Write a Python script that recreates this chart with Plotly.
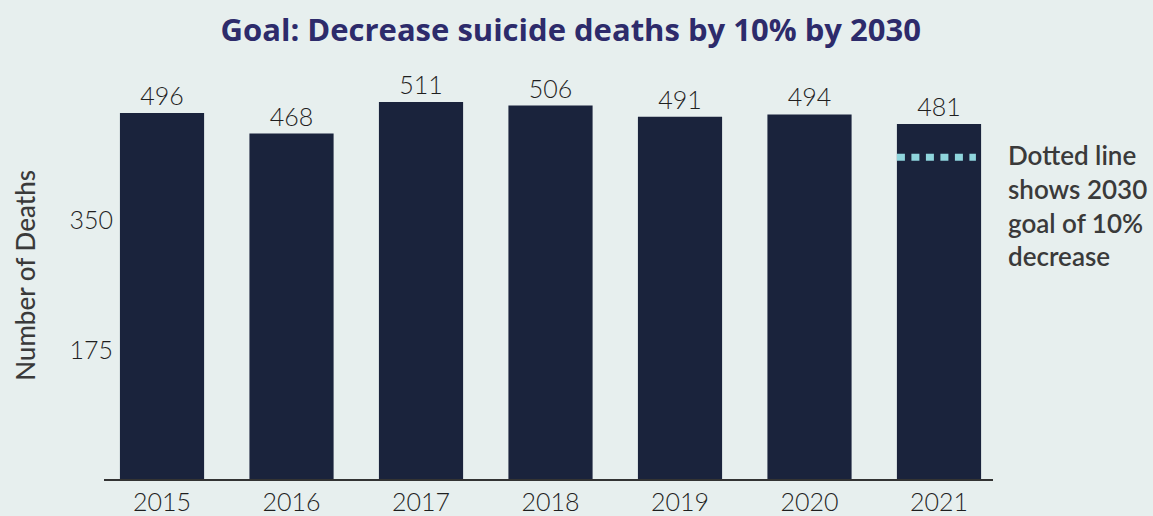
import plotly.graph_objects as go

# Suicide deaths per year
years = [2015, 2016, 2017, 2018, 2019, 2020, 2021]
deaths = [496, 468, 511, 506, 491, 494, 481]
goal_2030 = 436
y_ticks = [175, 350]

BG = "#e7efee"
BAR = "#1a233c"
TITLE = "#2d2b6b"
TEXT = "#1f1f1f"
NOTE = "#3a3a3a"
GOAL = "#8fd5dd"

bar_frac = 0.65

fig = go.Figure()
fig.add_trace(go.Bar(
    x=years, y=deaths,
    marker=dict(color=BAR, line=dict(width=0)),
    width=bar_frac,
    text=[str(v) for v in deaths],
    textposition="outside",
    textfont=dict(family="Lato", size=25, color=TEXT, weight=300),
    cliponaxis=False,
    hoverinfo="skip",
))

# 2030 goal marker drawn across the latest bar
last = years[-1]
fig.add_shape(
    type="line", xref="x", yref="y",
    x0=last - bar_frac / 2, x1=last + bar_frac / 2 - 0.04,
    y0=goal_2030, y1=goal_2030,
    line=dict(color=GOAL, width=7, dash="8px,6.5px"),
)

fig.add_annotation(
    text="Dotted line<br>shows 2030<br>goal of 10%<br>decrease",
    xref="paper", yref="paper", x=1.0146, y=0.652,
    xanchor="left", yanchor="middle", align="left", showarrow=False,
    font=dict(family="Lato", size=26, color=NOTE, weight=600),
)

fig.add_annotation(
    text="Number of Deaths",
    xref="paper", yref="paper", x=-0.089, y=0.487,
    xanchor="center", yanchor="middle", textangle=-90, showarrow=False,
    font=dict(family="Lato", size=26, color=NOTE, weight=500),
)

fig.update_layout(
    width=1153, height=516,
    margin=dict(l=104, r=160, t=60, b=37, autoexpand=False),
    paper_bgcolor=BG, plot_bgcolor=BG,
    showlegend=False,
    title=dict(
        text="Goal: Decrease suicide deaths by 10% by 2030",
        x=0.495, xanchor="center", xref="container",
        y=1 - 30 / 516, yanchor="middle", yref="container",
        font=dict(family="Open Sans", size=31, color=TITLE, weight=700),
    ),
    xaxis=dict(
        tickmode="array", tickvals=years, ticktext=[str(y) for y in years],
        range=[years[0] - 0.448, years[-1] + 0.417],
        showgrid=False, zeroline=False, automargin=False,
        showline=True, linecolor="#333333", linewidth=2,
        ticks="", ticklabelstandoff=0,
        tickfont=dict(family="Lato", size=25, color=TEXT, weight=300),
    ),
    yaxis=dict(
        range=[0, 419 / 0.738], automargin=False,
        tickmode="array", tickvals=y_ticks,
        showgrid=False, zeroline=False, showline=False,
        ticks="", ticklabelstandoff=-10,
        tickfont=dict(family="Lato", size=25, color=TEXT, weight=300),
    ),
)

fig.write_html("out.html")
